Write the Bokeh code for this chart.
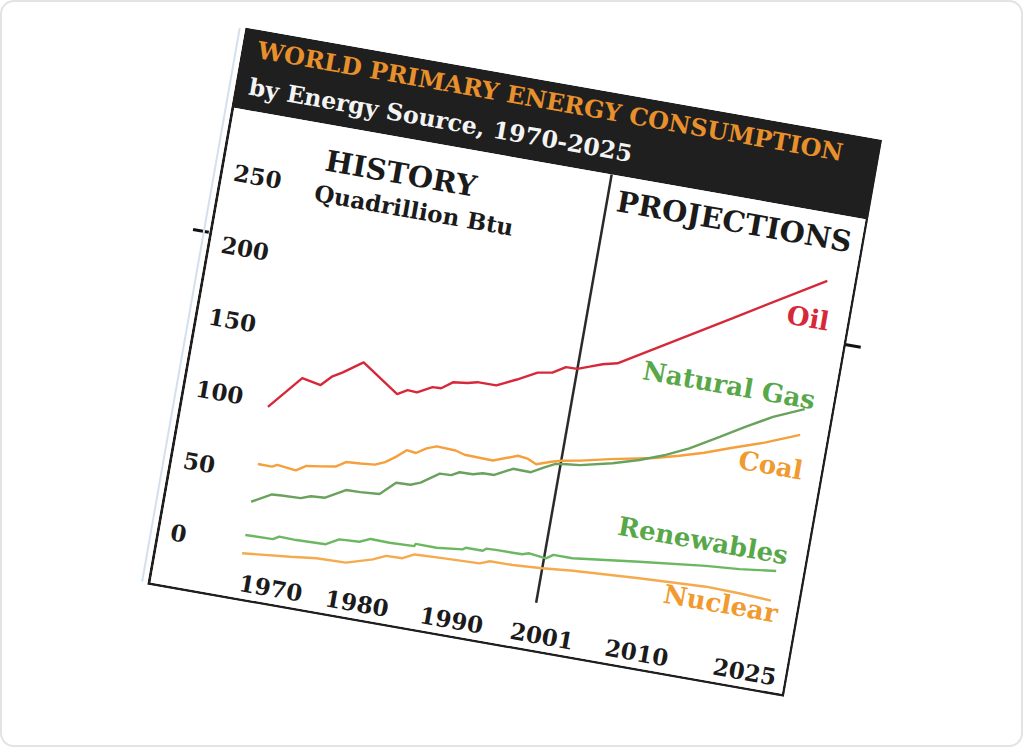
from bokeh.plotting import figure
from bokeh.layouts import column
from bokeh.models import Range1d, Title, InlineStyleSheet
from bokeh.core.properties import value
from bokeh.embed import file_html
from bokeh.resources import INLINE

# ---------------- data ----------------
oil_years = [1970, 1973, 1975, 1976, 1977, 1979, 1983, 1984, 1985, 1986.5, 1987.4, 1988.5,
             1990, 1991, 1993, 1995, 1997, 1998.5, 1999.8, 2001, 2002.2, 2003.5, 2005, 2016, 2025]
oil_values = [96, 119.5, 117, 124, 128, 137.4, 120, 124, 123.5, 128.9, 129.2, 134.6,
              135.9, 137.6, 137.7, 144.1, 151.2, 153, 158.3, 158.5, 161.4, 164.6, 167, 211.3, 247.6]

gas_years = [1970, 1972, 1973, 1975, 1976, 1977.5, 1979.5, 1981, 1983, 1984.5, 1986, 1987,
             1988.8, 1990, 1990.8, 1992.2, 1993.2, 1994.4, 1996.2, 1998.1, 1999.4, 2000.5,
             2001.6, 2003, 2006.3, 2009, 2011.6, 2013.9, 2016.8, 2019.3, 2021.9, 2025]
gas_values = [30, 37.4, 37.8, 38.3, 40.8, 41.5, 49.2, 49.5, 50.5, 60.1, 60.4, 63.1,
              71.4, 71.8, 74.7, 74.9, 76.8, 77, 83.4, 83.2, 88.1, 91.8,
              92.8, 93.8, 99, 104.4, 110.9, 118.2, 129.6, 139.5, 149.4, 158.4]

coal_years = [1970, 1971.5, 1972, 1974, 1975, 1976.5, 1978, 1979, 1980.5, 1982, 1983, 1984,
              1985, 1986, 1987, 1988, 1990, 1991, 1994, 1996.5, 1997.5, 1998.5, 2000, 2001,
              2003, 2006, 2010.5, 2013, 2015.5, 2018, 2021.5, 2025]
coal_values = [56.3, 56.2, 58, 56.5, 60.7, 62.2, 63.8, 68.1, 68.8, 69.8, 72.7, 77.5,
               83.3, 82.5, 86.9, 89.4, 88.9, 87.1, 86.6, 92.8, 92, 89.2, 92.7, 94.6,
               97, 101.5, 107.5, 112, 117, 123, 131, 140.5]

renew_years = [1970, 1972.9, 1973.5, 1975.3, 1978.4, 1979.7, 1981.8, 1982.9, 1984.9, 1987.5,
               1987.6, 1989.8, 1992.5, 1992.8, 1994.6, 1994.9, 1995.9, 1998.7, 1999.4, 2001.2,
               2001.9, 2003.9, 2010.8, 2017.7, 2021.2, 2025]
renew_values = [6.9, 7.4, 9.8, 9.5, 10.2, 15.1, 15.9, 19.1, 18.8, 19.5,
                21.1, 21, 23, 24.5, 24.5, 26.3, 26.6, 26.8, 28.3, 26.9,
                30.1, 30.1, 35.7, 40.8, 42.6, 45.7]

nuclear_years = [1970, 1975, 1977.7, 1980.8, 1983.5, 1984.8, 1986.5, 1987.7, 1990.6, 1994.5,
                 1995.5, 1997.9, 2001, 2004.2, 2011.1, 2018.1, 2021.6, 2025]
nuclear_values = [-5.8, -2.5, -0.4, 0.2, 5.6, 9.5, 9.9, 13.9, 14.7, 15.6,
                  18.2, 18.4, 19.8, 21.7, 24.5, 26.8, 26.3, 25.1]

series_names = ["Oil", "Natural Gas", "Coal", "Renewables", "Nuclear"]
series_label_values = [220.2, 165.4, 116.5, 57.5, 17.1]

y_tick_values = [0, 50, 100, 150, 200, 250]
y_tick_labels = ["0", "50", "100", "150", "200", "250"]
x_tick_labels = ["1970", "1980", "1990", "2001", "2010", "2025"]

title_text = "WORLD PRIMARY ENERGY CONSUMPTION"
subtitle_text = "by Energy Source, 1970-2025"
history_text = "HISTORY"
unit_text = "Quadrillion Btu"
projection_text = "PROJECTIONS"
divider_year = 2001

# ---------------- layout / style ----------------
FONT = "DejaVu Serif"
DARK = "#1b1b1b"
HEADER = "#1f1f1f"
RED = "#d7283a"
GREEN_LINE = "#68a25c"
GREEN_TXT = "#58a84a"
ORANGE_LINE = "#f5a03c"
ORANGE_TXT = "#f19a2f"
NUC_LINE = "#f5aa4e"

x_label_pos = [1973.55, 1982.65, 1992.63, 2002.2, 2012.2, 2023.6]
x_label_level = -26.2
y_label_x = 1962.3
series_label_x = 2025.9

# The sheet is tilted by 10 degrees. Bokeh sizes its canvas from the (rotated)
# bounding box of the host, so the host is declared smaller (574 x 474) so that
# the canvas comes out at about 647 x 566.
sheet_css = """
:host {
  position: relative;
  transform-origin: 0 0;
  transform: translate(243px, 25px) rotate(10deg);
  overflow: visible;
}
:host::before {
  content: ""; position: absolute; left: -16px; top: 207px;
  width: 16px; height: 3px; background: #111;
  box-shadow: 662px 0 0 0 #111;
}
:host::after {
  content: ""; position: absolute; left: -6px; top: 2px;
  width: 2px; height: 562px; background: #d3e1ee;
}
"""

card_css = """
:host {
  border: 2px solid #e3e3e3;
  border-radius: 14px;
  box-sizing: border-box;
  background: white;
}
"""

p = figure(width=574, height=474,
           x_range=Range1d(1961.16, 2027.8), y_range=Range1d(-36.5, 293.8),
           output_backend="svg", toolbar_location=None,
           x_axis_location=None, y_axis_location=None,
           min_border_left=3, min_border_right=3, min_border_bottom=3, min_border_top=81,
           border_fill_color=HEADER, background_fill_color="white",
           outline_line_color=None,
           stylesheets=[InlineStyleSheet(css=sheet_css)])
p.grid.visible = False

# titles in the black header
p.title.text = title_text
p.title.text_color = "#e8902c"
p.title.text_font = FONT
p.title.text_font_style = "bold"
p.title.text_font_size = "24px"
p.title.align = "left"
p.title.offset = 13
p.title.standoff = -4

sub_title = Title(text=subtitle_text, text_color="#f4f4f4", text_font=FONT,
                  text_font_style="bold", text_font_size="23.6px", align="left",
                  offset=11, standoff=19)
p.add_layout(sub_title, "above")

# divider between history and projections
p.segment(x0=[divider_year], y0=[-4.3], x1=[divider_year], y1=[300],
          line_color="#2a2a2a", line_width=2.5)

# series
lw = 2.4
p.line(oil_years, oil_values, line_color=RED, line_width=lw)
p.line(coal_years, coal_values, line_color=ORANGE_LINE, line_width=lw)
p.line(gas_years, gas_values, line_color=GREEN_LINE, line_width=lw)
p.line(renew_years, renew_values, line_color="#6cb862", line_width=lw)
p.line(nuclear_years, nuclear_values, line_color=NUC_LINE, line_width=lw)

# series labels
label_colors = [RED, GREEN_TXT, ORANGE_TXT, GREEN_TXT, ORANGE_TXT]
p.text(x=[series_label_x] * len(series_names), y=series_label_values, text=series_names,
       text_color=label_colors, text_font=value(FONT), text_font_style="bold",
       text_font_size="26px", text_align="right", text_baseline="middle")

# headings
p.text(x=[1979.4], y=[269.2], text=[history_text], text_color=DARK, text_font=value(FONT),
       text_font_style="bold", text_font_size="29px", text_align="center", text_baseline="middle")
p.text(x=[1981.4], y=[246.3], text=[unit_text], text_color=DARK, text_font=value(FONT),
       text_font_style="bold", text_font_size="23px", text_align="center", text_baseline="middle")
p.text(x=[2014.4], y=[276.4], text=[projection_text], text_color=DARK, text_font=value(FONT),
       text_font_style="bold", text_font_size="29px", text_align="center", text_baseline="middle")

# tick labels
p.text(x=[y_label_x] * len(y_tick_values), y=y_tick_values, text=y_tick_labels,
       text_color=DARK, text_font=value(FONT), text_font_style="bold", text_font_size="23px",
       text_align="left", text_baseline="middle")
p.text(x=x_label_pos, y=[x_label_level] * len(x_tick_labels), text=x_tick_labels,
       text_color=DARK, text_font=value(FONT), text_font_style="bold", text_font_size="23px",
       text_align="center", text_baseline="middle")

page = column(p, width=1023, height=747, stylesheets=[InlineStyleSheet(css=card_css)])

open("out.html", "w").write(file_html(page, INLINE))
